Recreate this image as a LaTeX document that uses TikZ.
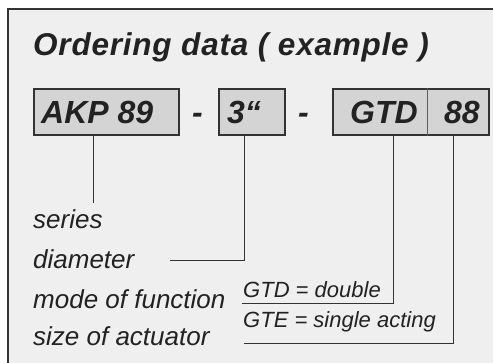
\documentclass[tikz,border=0pt]{standalone}
\usepackage{fontspec}
\setmainfont{Liberation Sans}
\newfontfamily\titlefont[LetterSpace=2.5]{Liberation Sans}
\definecolor{bgc}{HTML}{EFEFEF}
\definecolor{boxc}{HTML}{D4D4D4}
\definecolor{ink}{HTML}{222222}
\definecolor{linec}{HTML}{333333}
\begin{document}
\begin{tikzpicture}[x=1pt,y=-1pt,
  frame/.style={draw=linec, line width=1.2pt, fill=bgc},
  codebox/.style={draw=linec, line width=1.5pt, fill=boxc, minimum height=46pt, inner sep=0pt, anchor=north west},
  codetext/.style={font=\fontsize{32}{34}\selectfont\bfseries\itshape, text=ink, inner sep=0pt, anchor=base west},
  titletext/.style={font=\titlefont\fontsize{31.5}{33}\selectfont\bfseries\itshape, text=ink, inner sep=0pt, anchor=base west},
  lbl/.style={font=\fontsize{26}{28}\selectfont\itshape, text=ink, inner sep=0pt, anchor=base west},
  smalllbl/.style={font=\fontsize{22}{24}\selectfont\itshape, text=ink, inner sep=0pt, anchor=base west},
  conn/.style={draw=linec, line width=0.9pt},
  divider/.style={draw=linec!80, line width=0.8pt}]
\useasboundingbox[fill=white] (0,0) rectangle (493,362);
\begin{scope}
\clip (0,0) rectangle (493,362);
\path[frame] (8,9) rectangle (505,375);
\end{scope}
% title
\node[titletext] (title) at (33,55) {Ordering data ( example )};
% boxes
\node[codebox, minimum width=145pt] (akp) at (33,88) {};
\node[codebox, minimum width=66pt] (dia) at (218,88) {};
\node[codebox, minimum width=156pt] (gtd) at (332,88) {};
\draw[divider] ([xshift=95pt]gtd.north west) coordinate (divtop) -- ([xshift=95pt]gtd.south west) coordinate (divbot);
\node[codetext] (akpt) at (41,123) {AKP 89};
\node[codetext] (dash1) at (192,123) {-};
\node[codetext] (diat) at (227,123) {3“};
\node[codetext] (dash2) at (298,123) {-};
\node[codetext] (gtdt) at (350,123) {GTD};
\node[codetext] (numt) at (444,123) {88};
% labels
\node[lbl] (series) at (33,228) {series};
\node[lbl] (diameter) at (33,268) {diameter};
\node[lbl] (mode) at (33,308) {mode of function};
\node[lbl] (size) at (33,345) {size of actuator};
\node[smalllbl] (gtdl) at (243,297) {GTD = double};
\node[smalllbl] (gtel) at (243,327) {GTE = single acting};
% connectors
\coordinate (c1) at (93,203);
\coordinate (c2) at (170,260);
\coordinate (c3) at (242,303);
\coordinate (c4) at (244,343);
\draw[conn] (akp.south -| c1) -- (c1);
\draw[conn] (dia.south -| 244,0) -- (244,260) -- (c2);
\draw[conn] (gtd.south -| 393,0) -- (393,303) -- (c3);
\draw[conn] (gtd.south -| 453,0) -- (453,343) -- (c4);
\end{tikzpicture}
\end{document}
